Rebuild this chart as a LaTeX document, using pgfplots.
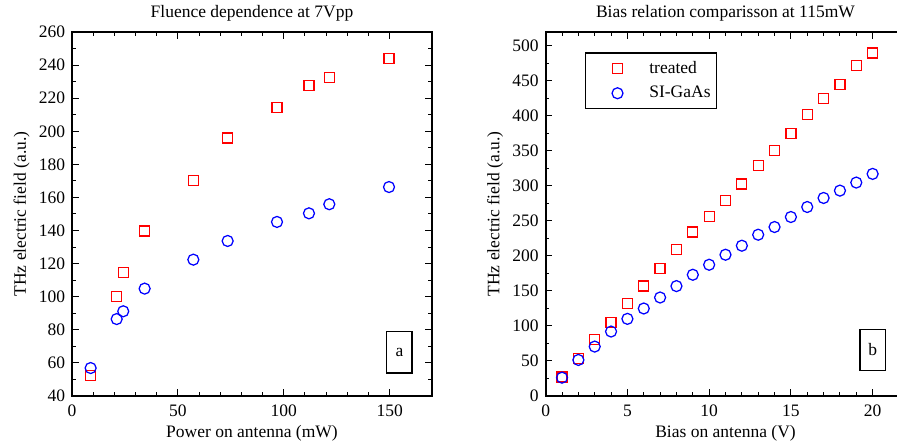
\documentclass[border=0pt]{standalone}
\usepackage{pgfplots}
\pgfplotsset{compat=1.18}
\usepackage{fontspec}
\setmainfont{Liberation Serif}
\definecolor{mred}{RGB}{255,0,0}
\definecolor{mblue}{RGB}{0,0,255}
\begin{document}
\fontsize{10.5pt}{12pt}\selectfont
\begin{tikzpicture}
\path[use as bounding box] (0pt,0pt) rectangle (538.2pt,267.6pt);
\fill[white] (0pt,0pt) rectangle (538.2pt,267.6pt);
\pgfplotsset{
  every axis/.append style={
    scale only axis, clip=false,
    width=216pt, height=218.4pt,
    axis line style={line width=1pt},
    tick align=inside,
    major tick length=4pt, minor tick length=2.2pt,
    every tick/.style={black, line width=0.6pt},
    /pgf/number format/assume math mode=true,
    tick label style={font=\fontsize{10.5pt}{12pt}\selectfont},
    label style={font=\fontsize{10.5pt}{12pt}\selectfont},
    xlabel style={at={(axis description cs:0.5,-0.1016)}, anchor=center},
    ylabel style={at={(axis description cs:-0.14,0.5)}, anchor=center},
    xticklabel style={yshift=-1.5pt},
    yticklabel style={xshift=-0.5pt},
  },
  tr/.style={only marks, mark=square, mark size=3pt, mark options={draw=mred, line width=0.75pt}},
  bl/.style={only marks, mark=o, mark size=3.3pt, mark options={draw=mblue, line width=0.75pt}},
}
\begin{axis}[at={(43.2pt,30pt)}, anchor=south west,
  xmin=0, xmax=170, ymin=40, ymax=260,
  xtick={0,50,100,150}, ytick={40,60,...,260},
  minor x tick num=4, minor y tick num=1,
  xlabel={Power on antenna (mW)},
  ylabel={THz electric field (a.u.)}]
\addplot[tr] coordinates {(8.8,52.3)(21.1,100.2)(24.2,114.7)(34.3,139.7)(57.3,170.1)(73.5,196)(96.8,214.3)(111.9,227.8)(121.5,232.6)(149.7,243.9)};
\addplot[bl] coordinates {(8.8,56.9)(21.1,86.5)(24.2,91.2)(34.3,104.9)(57.3,122.4)(73.5,133.7)(96.8,145.2)(111.9,150.4)(121.5,155.9)(149.7,166.3)};
\node[draw, line width=0.8pt, minimum width=15.2pt, minimum height=24.8pt, inner sep=0pt] at (axis cs:154.6,66.4) {a};
\node[anchor=center] at (axis description cs:0.5,1.052) {Fluence dependence at 7Vpp};
\end{axis}
\begin{axis}[at={(327.4pt,30pt)}, anchor=south west,
  width=215.8pt,
  xmin=0, xmax=22, ymin=0, ymax=520,
  xtick={0,5,...,20}, ytick={0,50,...,500},
  minor x tick num=4, minor y tick num=1,
  xlabel={Bias on antenna (V)},
  ylabel={THz electric field (a.u.)},
  ylabel style={at={(axis description cs:-0.141,0.5)}},
  legend style={at={(axis description cs:0.108,0.944)}, anchor=north west, draw=black, line width=0.8pt,
    font=\fontsize{10.5pt}{12pt}\selectfont, inner xsep=1.5pt, inner ysep=3pt, row sep=2pt,
    nodes={inner sep=2pt}},
  legend cell align=left,
  legend image code/.code={\draw[#1] plot coordinates {(17.5pt,0pt)};\path (0,0) (34.2pt,0);},
  ]
\addplot[tr] coordinates {(1,27.2)(2,53.9)(3,80.2)(4,105)(5,132.2)(6,157)(7,182.3)(8,209)(9,234.3)(10,256.2)(11,279.1)(12,303)(13,329.7)(14,351.1)(15,374.5)(16,401.7)(17,424.6)(18,444.7)(19,471.9)(20,490)};
\addlegendentry{treated}
\addplot[bl] coordinates {(1,26.2)(2,51.5)(3,70.6)(4,92.1)(5,110.2)(6,125)(7,140.7)(8,157)(9,173.2)(10,187.5)(11,201.8)(12,214.7)(13,230.4)(14,241.4)(15,255.7)(16,270)(17,282.9)(18,293.4)(19,304.9)(20,317.3)};
\addlegendentry{SI-GaAs}
\node[draw, line width=0.8pt, minimum width=15.2pt, minimum height=24.8pt, inner sep=0pt] at (axis cs:20,65.8) {b};
\node[anchor=center] at (axis description cs:0.5,1.052) {Bias relation comparisson at 115mW};
\end{axis}
\end{tikzpicture}
\end{document}
